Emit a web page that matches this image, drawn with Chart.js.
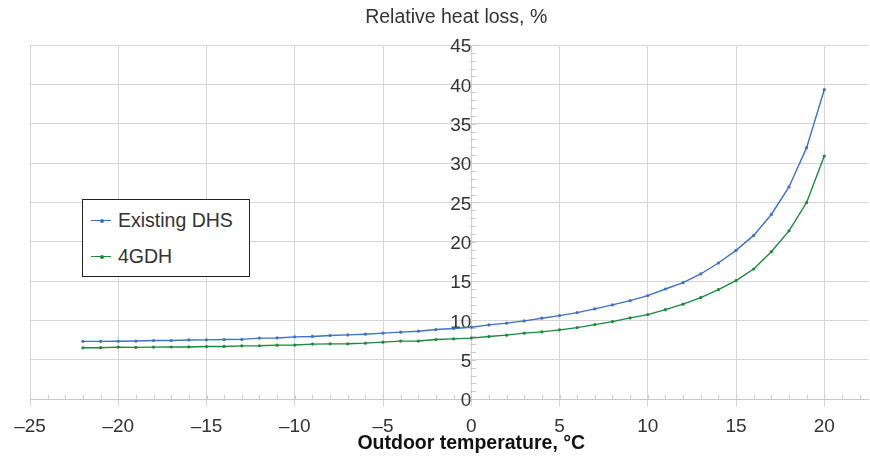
<!DOCTYPE html>
<html><head><meta charset="utf-8">
<script src="https://cdn.jsdelivr.net/npm/chart.js@4.4.1/dist/chart.umd.min.js"></script>
<style>
html,body{margin:0;padding:0;background:#fff;}
#wrap{position:relative;width:870px;height:458px;}
#legend{position:absolute;left:82px;top:199px;width:168px;height:78px;border:1.5px solid #222;background:#fff;font-family:"Liberation Sans",Arial,sans-serif;font-size:19.5px;color:#333;box-sizing:border-box;}
.item{position:absolute;left:8px;display:flex;align-items:center;white-space:nowrap;}
.sw{position:relative;width:20px;height:1.5px;margin-right:7px;}
.sw i{position:absolute;left:8.5px;top:-1.25px;width:4px;height:4px;border-radius:2px;}
</style></head><body>
<div id="wrap"><canvas id="c"></canvas><div id="legend"></div></div>
<script>
const temperatures = [-22,-21,-20,-19,-18,-17,-16,-15,-14,-13,-12,-11,-10,-9,-8,-7,-6,-5,-4,-3,-2,-1,0,1,2,3,4,5,6,7,8,9,10,11,12,13,14,15,16,17,18,19,20];
const existingDHS = [7.35,7.35,7.36,7.39,7.45,7.46,7.53,7.54,7.58,7.6,7.76,7.78,7.92,7.97,8.09,8.17,8.26,8.39,8.52,8.64,8.85,8.98,9.15,9.44,9.66,9.95,10.29,10.62,11.0,11.47,11.98,12.52,13.16,14.0,14.8,15.91,17.3,18.91,20.81,23.47,26.97,31.96,39.32];
const gdh4 = [6.53,6.54,6.62,6.58,6.62,6.63,6.64,6.69,6.7,6.78,6.79,6.87,6.88,7.0,7.03,7.04,7.12,7.25,7.38,7.39,7.58,7.67,7.76,7.96,8.14,8.39,8.56,8.81,9.1,9.48,9.86,10.33,10.75,11.38,12.07,12.9,13.92,15.06,16.54,18.73,21.39,24.99,30.9];
const seriesNames = ['Existing DHS','4GDH'];
const seriesColors = ['#3d72c6','#1a8a3c'];
const xTickValues = [-25,-20,-15,-10,-5,0,5,10,15,20];
const xTickLabels = ['\u201325','\u201320','\u201315','\u201310','\u20135','0','5','10','15','20'];
const yTickValues = [0,5,10,15,20,25,30,35,40,45];
const yTickLabels = ['0','5','10','15','20','25','30','35','40','45'];
const chartTitle = 'Relative heat loss, %';
const xAxisTitle = 'Outdoor temperature, \u00B0C';

const FONT = '"Liberation Sans", Arial, sans-serif';
const TXT = '#333333';
const GRID = '#d6d6d6';

const minorTicks = {
  id: 'minorTicks',
  beforeDatasetsDraw(chart) {
    const {ctx, scales: {x, y}} = chart;
    ctx.save();
    ctx.strokeStyle = '#cccccc';
    ctx.lineWidth = 1;
    const x0 = x.getPixelForValue(0);
    ctx.beginPath();
    for (let v = Math.ceil(y.min); v <= y.max; v++) {
      const py = Math.round(y.getPixelForValue(v)) + 0.5;
      ctx.moveTo(x0 - 1, py); ctx.lineTo(x0 + 5, py);
    }
    for (let v = Math.ceil(x.min); v <= Math.floor(x.max); v++) {
      const px = Math.round(x.getPixelForValue(v)) + 0.5;
      ctx.moveTo(px, y.bottom - 4); ctx.lineTo(px, y.bottom);
    }
    ctx.stroke();
    ctx.restore();
  }
};

const titles = {
  id: 'titles',
  afterDraw(chart) {
    const {ctx, chartArea, scales: {x}} = chart;
    ctx.save();
    ctx.fillStyle = TXT;
    ctx.textAlign = 'center';
    ctx.textBaseline = 'middle';
    ctx.font = '19.5px ' + FONT;
    ctx.fillText(chartTitle, (chartArea.left + chartArea.right) / 2 + 7, 18);
    ctx.fillStyle = '#111';
    ctx.font = 'bold 19.5px ' + FONT;
    ctx.fillText(xAxisTitle, x.getPixelForValue(0), 444);
    ctx.restore();
  }
};

const datasets = [existingDHS, gdh4].map((vals, i) => ({
  label: seriesNames[i],
  data: temperatures.map((t, k) => ({x: t, y: vals[k]})),
  borderColor: seriesColors[i],
  backgroundColor: seriesColors[i],
  borderWidth: 1.4,
  pointRadius: 1.6,
  pointHoverRadius: 1.6,
  pointBorderWidth: 0,
  tension: 0,
  fill: false
}));

const chart = new Chart(document.getElementById('c'), {
  type: 'line',
  data: {datasets},
  options: {
    responsive: true,
    maintainAspectRatio: false,
    animation: false,
    events: [],
    layout: {padding: {left: 30, right: 0, top: 45, bottom: 11}},
    plugins: {legend: {display: false}, tooltip: {enabled: false}, title: {display: false}},
    scales: {
      x: {
        type: 'linear', position: 'bottom', min: -25, max: 22.5,
        afterBuildTicks: s => { s.ticks = xTickValues.map(v => ({value: v})); },
        grid: {color: GRID, lineWidth: 1, drawTicks: true, tickLength: 7, tickColor: GRID},
        border: {display: true, color: '#c8c8c8'},
        ticks: {padding: 9, maxRotation: 0, autoSkip: false, color: TXT, font: {family: FONT, size: 19},
          callback: v => xTickLabels[xTickValues.indexOf(v)]}
      },
      y: {
        type: 'linear', position: {x: 0}, min: 0, max: 45,
        afterBuildTicks: s => { s.ticks = yTickValues.map(v => ({value: v})); },
        grid: {color: GRID, lineWidth: 1, drawTicks: false},
        border: {display: true, color: '#d0d0d0'},
        ticks: {padding: 14, labelOffset: 2, color: TXT, font: {family: FONT, size: 19},
          callback: v => yTickLabels[yTickValues.indexOf(v)]}
      }
    }
  },
  plugins: [minorTicks, titles]
});

const leg = document.getElementById('legend');
datasets.forEach((d, i) => {
  const it = document.createElement('div');
  it.className = 'item';
  it.style.top = (i === 0 ? 9 : 45) + 'px';
  it.innerHTML = '<span class="sw" style="background:' + d.borderColor + '"><i style="background:' + d.borderColor + '"></i></span><span>' + d.label + '</span>';
  leg.appendChild(it);
});
</script>
</body></html>
